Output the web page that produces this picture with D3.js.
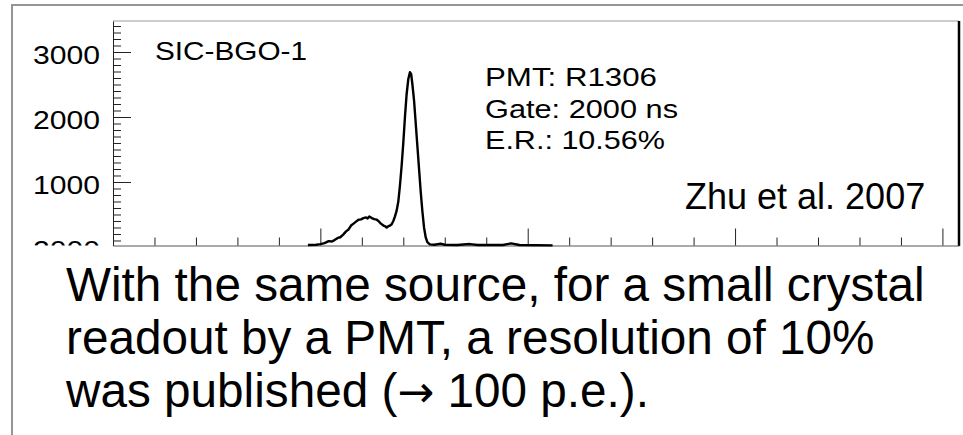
<!DOCTYPE html>
<meta charset="utf-8">
<head>
<title>SIC-BGO-1 spectrum</title>
<script type="text/javascript" src="https://cdn.jsdelivr.net/npm/d3@7/dist/d3.min.js"></script>
<style>
    body { margin: 0; background: #fff; }
    text { font-family: "Liberation Sans", Arial, sans-serif; fill: #000; }
    tspan.arrow { font-family: "DejaVu Sans", sans-serif; }
</style>
</head>
<body>
<div id="chart"></div>
<script>

    // spectrum: [channel, counts]
    var channels = [470, 490, 500, 510, 520, 528, 535, 542, 548, 555, 562, 568, 574, 580, 586, 592, 598,
                    604, 610, 614, 618, 624, 630, 636, 640, 646, 652, 656, 660, 664, 668, 672, 676, 680,
                    684, 688, 692, 696, 700, 704, 708, 712, 716, 719, 722, 726, 730, 734, 738, 742, 746,
                    750, 754, 758, 764, 775, 790, 800, 830, 860, 880, 940, 960, 980, 1060];
    var counts = [30, 35, 45, 60, 90, 85, 110, 140, 150, 190, 240, 270, 330, 360, 390, 420, 425,
                  445, 455, 440, 470, 445, 430, 420, 400, 360, 330, 320, 300, 320, 330, 350, 400, 470,
                  560, 700, 950, 1250, 1600, 2000, 2350, 2580, 2690, 2660, 2500, 2250, 1900, 1550, 1200, 850, 550,
                  300, 150, 75, 40, 35, 50, 35, 30, 45, 30, 30, 55, 30, 25];

    var yMajor = [0, 1000, 2000, 3000];
    var yTickLabels = ["2000", "1000", "2000", "3000"];   // bottom one is cut off in the original
    var xMajor = [0, 500, 1000, 1500, 2000];

    var infoLines = ["PMT: R1306", "Gate: 2000 ns", "E.R.: 10.56%"];
    var infoWidths = [172, 193, 180];
    var caption = [["With the same source, for a small crystal"],
                   ["readout by a PMT, a resolution of 10%"],
                   ["was published (", "\u2192", " 100 p.e.)."]];

    var W = 963, H = 435;
    var plot = {left: 113, right: 959, top: 21, bottom: 245.5};

    var svg = d3.select("#chart").append("svg")
                .attr("width", W).attr("height", H);

    // slide frame
    svg.append("rect")
       .attr("x", 12).attr("y", 5).attr("width", 1000).attr("height", 500)
       .attr("fill", "none").attr("stroke", "#8a8a8a").attr("stroke-width", 1.8);

    var x = d3.scaleLinear().domain([0, 2040]).range([plot.left, plot.right]);
    var y = d3.scaleLinear().domain([23, 3477]).range([plot.bottom, plot.top]);

    // frame top + right
    svg.append("line").attr("x1", plot.left).attr("x2", plot.right)
       .attr("y1", plot.top).attr("y2", plot.top)
       .attr("stroke", "#999").attr("stroke-width", 1);
    svg.append("line").attr("x1", plot.right).attr("x2", plot.right)
       .attr("y1", plot.top).attr("y2", plot.bottom + 0.5)
       .attr("stroke", "#000").attr("stroke-width", 2.5);

    // y axis
    var yMinor = d3.range(100, 3500, 100).filter(d => d % 1000 != 0);
    svg.append("g").attr("transform", "translate(" + plot.left + ",0)")
       .call(d3.axisLeft(y).tickValues(yMinor).tickSize(-8).tickSizeOuter(0).tickFormat(""))
       .call(g => g.selectAll("line").attr("stroke", "#222"))
       .call(g => g.select(".domain").attr("stroke", "#222"));

    var yAx = svg.append("g").attr("transform", "translate(" + plot.left + ",0)")
       .call(d3.axisLeft(y).tickValues(yMajor.filter(d => d > 0)).tickSize(-18).tickSizeOuter(0)
               .tickPadding(13).tickFormat((d) => yTickLabels[yMajor.indexOf(d)]));
    yAx.select(".domain").remove();
    yAx.selectAll("line").attr("stroke", "#222");
    yAx.selectAll("text")
       .attr("font-size", 26).attr("dy", "0.46em")
       .attr("textLength", 67).attr("lengthAdjust", "spacingAndGlyphs")
       .style("font-family", "Liberation Sans, Arial, sans-serif");

    // cut-off label at the bottom (only its top shows above the axis)
    svg.append("clipPath").attr("id", "cut")
       .append("rect").attr("x", 0).attr("y", 0).attr("width", plot.left).attr("height", plot.bottom);
    svg.append("text")
       .attr("clip-path", "url(#cut)")
       .attr("x", plot.left - 13).attr("y", y(0) + 12)
       .attr("text-anchor", "end").attr("font-size", 26)
       .attr("textLength", 67).attr("lengthAdjust", "spacingAndGlyphs")
       .text(yTickLabels[0]);

    // x axis, ticks pointing up, no labels
    var xMinor = d3.range(100, 2040, 100).filter(d => d % 500 != 0);
    svg.append("g").attr("transform", "translate(0," + plot.bottom + ")")
       .call(d3.axisBottom(x).tickValues(xMinor).tickSize(-8).tickSizeOuter(0).tickFormat(""))
       .call(g => g.selectAll("line").attr("stroke", "#222"))
       .call(g => g.select(".domain").attr("stroke", "#555"));
    svg.append("g").attr("transform", "translate(0," + plot.bottom + ")")
       .call(d3.axisBottom(x).tickValues(xMajor).tickSize(-17).tickSizeOuter(0).tickFormat(""))
       .call(g => g.select(".domain").remove())
       .call(g => g.selectAll("line").attr("stroke", "#222"));

    // spectrum
    var line = d3.line().x((d, i) => x(channels[i])).y(d => y(d));
    svg.append("path")
       .datum(counts)
       .attr("d", line)
       .attr("fill", "none").attr("stroke", "#000").attr("stroke-width", 2.4)
       .attr("stroke-linejoin", "round");

    // labels inside the plot (stretched like the scanned figure)
    svg.append("text").attr("x", 155).attr("y", 60).attr("font-size", 25.5)
       .attr("textLength", 152).attr("lengthAdjust", "spacingAndGlyphs")
       .text("SIC-BGO-1");

    svg.selectAll(".info").data(infoLines).enter().append("text")
       .attr("class", "info")
       .attr("x", 485).attr("y", (d, i) => 86 + i * 31.5)
       .attr("font-size", 26)
       .attr("textLength", (d, i) => infoWidths[i]).attr("lengthAdjust", "spacingAndGlyphs")
       .text(d => d);

    svg.append("text").attr("x", 685).attr("y", 209).attr("font-size", 36)
       .text("Zhu et al. 2007");

    // caption
    svg.selectAll(".cap").data(caption).enter().append("text")
       .attr("class", "cap")
       .attr("x", 66).attr("y", (d, i) => 301 + i * 53)
       .attr("font-size", 47.7)
       .selectAll("tspan").data(d => d).enter().append("tspan")
       .attr("class", d => d == "\u2192" ? "arrow" : null)
       .attr("font-size", d => d == "\u2192" ? 44 : null)
       .text(d => d);

</script>
</body>
</html>
